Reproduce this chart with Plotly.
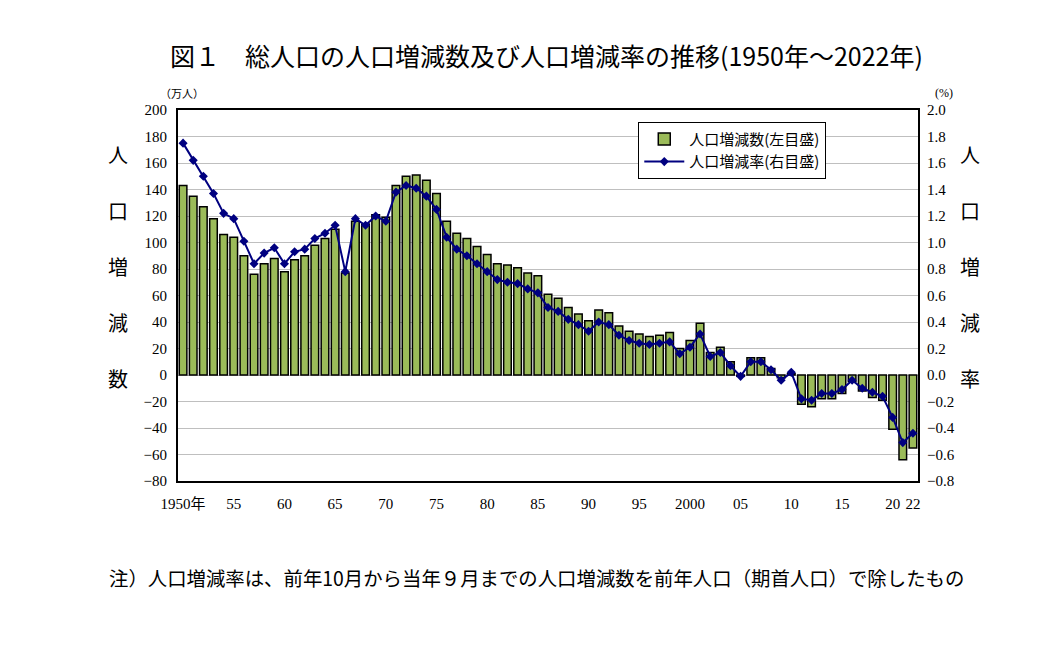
import plotly.graph_objects as go

years = list(range(1950, 2023))

# 人口増減数（万人）
zougen_su = [
    143, 135, 127, 118, 106, 104, 90, 76, 84, 88,
    78, 87, 90, 98, 103, 110, 77, 116, 114, 121,
    119, 143, 150, 151, 147, 137, 116, 107, 103, 97,
    91, 84, 83, 81, 77, 75, 61, 58, 51, 46,
    41, 49, 47, 37, 33, 31, 29, 30, 32, 20,
    26, 39, 17, 21, 10, -1, 13, 13, 5, -2,
    1, -22, -24, -18, -18, -14, -5, -12, -17, -19,
    -41, -64, -55,
]

# 人口増減率（％）
zougen_ritsu = [
    1.75, 1.62, 1.50, 1.37, 1.22, 1.18, 1.01, 0.84, 0.92, 0.96,
    0.84, 0.93, 0.95, 1.03, 1.07, 1.13, 0.78, 1.18, 1.13, 1.20,
    1.16, 1.38, 1.43, 1.41, 1.35, 1.25, 1.04, 0.95, 0.90, 0.84,
    0.78, 0.72, 0.70, 0.69, 0.65, 0.62, 0.51, 0.48, 0.42, 0.38,
    0.33, 0.40, 0.38, 0.30, 0.26, 0.24, 0.23, 0.24, 0.25, 0.16,
    0.21, 0.31, 0.14, 0.17, 0.07, -0.01, 0.10, 0.10, 0.04, -0.04,
    0.02, -0.18, -0.19, -0.14, -0.14, -0.11, -0.04, -0.10, -0.13, -0.16,
    -0.32, -0.51, -0.44,
]

x_tickvals = [1950, 1955, 1960, 1965, 1970, 1975, 1980, 1985, 1990, 1995,
              2000, 2005, 2010, 2015, 2020, 2022]
x_ticktext = ['1950年', '55', '60', '65', '70', '75', '80', '85', '90', '95',
              '2000', '05', '10', '15', '20', '22']

left_title = ['人', '口', '増', '減', '数']
right_title = ['人', '口', '増', '減', '率']

SERIF = 'Liberation Serif, Noto Sans CJK JP'
JP = 'Noto Sans CJK JP'

fig = go.Figure()
fig.add_trace(go.Bar(
    x=years, y=zougen_su, name='人口増減数(左目盛)',
    marker=dict(color='#9bbb59', line=dict(color='black', width=1.5)),
))
fig.add_trace(go.Scatter(
    x=years, y=zougen_ritsu, name='人口増減率(右目盛)', yaxis='y2',
    mode='lines+markers',
    line=dict(color='#000080', width=2),
    marker=dict(symbol='diamond', size=7, color='#000080'),
))

# ページ本体の8pxの余白を差し引いた余白
fig.update_layout(
    width=1062, height=654,
    margin=dict(t=102, b=181, l=170, r=152),
    plot_bgcolor='white', paper_bgcolor='white',
    bargap=0.25,
    showlegend=True,
    legend=dict(
        x=0.622, y=0.968, xanchor='left', yanchor='top',
        bgcolor='white', bordercolor='black', borderwidth=1,
        font=dict(family=JP, size=15, color='black'),
        itemwidth=40, tracegroupgap=6,
    ),
    xaxis=dict(
        range=[1949.5, 2022.5], tickvals=x_tickvals, ticktext=x_ticktext,
        showgrid=False, showline=True, linecolor='black', linewidth=2, mirror=True,
        ticks='', ticklabelstandoff=8,
        tickfont=dict(family=SERIF, size=15, color='black'),
    ),
    yaxis=dict(
        range=[-80, 200], dtick=20, showgrid=True, gridcolor='#bfbfbf', gridwidth=1,
        zeroline=False, showline=True, linecolor='black', linewidth=2, mirror=True,
        ticks='', ticklabelstandoff=6,
        tickfont=dict(family=SERIF, size=15, color='black'),
    ),
    yaxis2=dict(
        range=[-0.8, 2.0], dtick=0.2, tickformat='.1f', overlaying='y', side='right',
        showgrid=False, zeroline=False, ticks='', ticklabelstandoff=8,
        tickfont=dict(family=SERIF, size=15, color='black'),
    ),
    title=dict(
        text='図１　総人口の人口増減数及び人口増減率の推移(1950年～2022年)',
        x=0.507, xanchor='center', y=0.925, yanchor='middle',
        font=dict(family=JP, size=25, color='black'),
    ),
)

# 縦書きの軸タイトル
for i, ch in enumerate(left_title):
    fig.add_annotation(
        text=ch, xref='paper', yref='paper', x=-0.081, y=0.879 - i * 0.1505,
        xanchor='center', yanchor='middle',
        showarrow=False, font=dict(family=JP, size=20, color='black'),
    )
for i, ch in enumerate(right_title):
    fig.add_annotation(
        text=ch, xref='paper', yref='paper', x=1.070, y=0.879 - i * 0.1505,
        xanchor='center', yanchor='middle',
        showarrow=False, font=dict(family=JP, size=20, color='black'),
    )

fig.add_annotation(
    text='（万人）', xref='paper', yref='paper', x=0.005, y=1.046,
    xanchor='center', yanchor='middle',
    showarrow=False, font=dict(family=JP, size=11, color='black'),
)
fig.add_annotation(
    text='(%)', xref='paper', yref='paper', x=1.035, y=1.046,
    xanchor='center', yanchor='middle',
    showarrow=False, font=dict(family=SERIF, size=12, color='black'),
)
fig.add_annotation(
    text='注）人口増減率は、前年10月から当年９月までの人口増減数を前年人口（期首人口）で除したもの',
    xref='paper', yref='paper', x=-0.096, xanchor='left', y=-0.259, yanchor='middle',
    showarrow=False, font=dict(family=JP, size=19.4, color='black'),
)

fig.write_html('out.html')
